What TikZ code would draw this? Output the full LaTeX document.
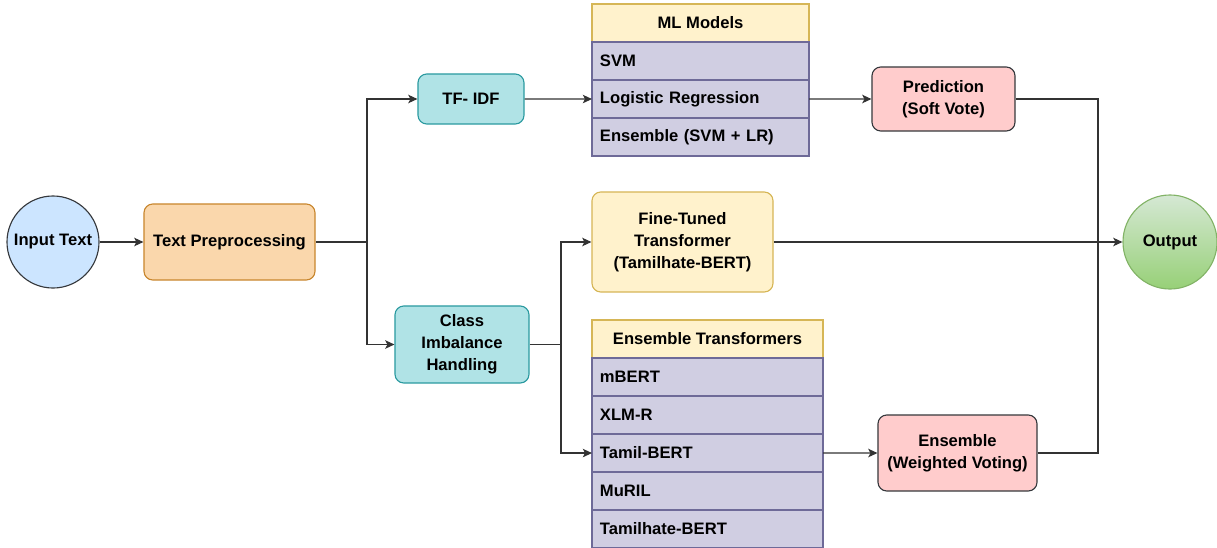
\documentclass[tikz,border=0pt]{standalone}
\usepackage{fontspec}
\setmainfont{Liberation Sans}
\usepackage{xcolor}
\usepackage{tikz}
\usetikzlibrary{positioning,arrows.meta}

\definecolor{inFill}{HTML}{CCE5FF}
\definecolor{grayD}{HTML}{36393D}
\definecolor{prepFill}{HTML}{FAD7AC}
\definecolor{prepD}{HTML}{C8862E}
\definecolor{tealFill}{HTML}{B0E3E6}
\definecolor{tealD}{HTML}{2B9AA0}
\definecolor{ylwFill}{HTML}{FFF2CC}
\definecolor{ylwD}{HTML}{D6B656}
\definecolor{purpFill}{HTML}{D0CEE2}
\definecolor{purpD}{HTML}{6E6A98}
\definecolor{redFill}{HTML}{FFCCCC}
\definecolor{outTop}{HTML}{D5E8D4}
\definecolor{outBot}{HTML}{97D077}
\definecolor{outD}{HTML}{82B366}

\begin{document}
\begin{tikzpicture}[x=0.025cm, y=-0.025cm,
    font=\fontsize{11.8}{15.5}\selectfont\bfseries,
    terminal/.style={circle, draw=grayD, thick, inner sep=0pt, minimum size=2.3cm},
    stage/.style={rectangle, rounded corners=0.22cm, thick, align=center, inner sep=2pt},
    header/.style={rectangle, draw=ylwD, fill=ylwFill, thick, outer sep=0pt, inner xsep=0.2cm, minimum height=0.95cm},
    mlrow/.style={rectangle, draw=purpD, fill=purpFill, thick, outer sep=0pt, inner xsep=0.2cm, text width=5.025cm, align=left, minimum height=0.95cm},
    etrow/.style={mlrow, text width=5.375cm},
    arrow/.style={-{Stealth[length=6.5pt, width=6pt, inset=1.5pt]}, thick, draw=black!80},
    link/.style={thick, draw=black!80}]

\useasboundingbox (0,0) rectangle (1217,547);

% Input side
\node[terminal, fill=inFill] (input) at (53,242) {Input Text};
\node[stage, draw=prepD, fill=prepFill, minimum width=4.275cm, minimum height=1.9cm] (prep) at (229.5,242) {Text Preprocessing};
\node[stage, draw=tealD, fill=tealFill, minimum width=2.65cm, minimum height=1.25cm] (tfidf) at (471,99) {TF- IDF};
\node[stage, draw=tealD, fill=tealFill, minimum width=3.35cm, minimum height=1.925cm] (imb) at (462,344.5) {Class\\Imbalance\\Handling};
\coordinate (split1) at (367,242);
\coordinate (split2) at (561,344.5);

\draw[arrow] (input) -- (prep);
\draw[link] (prep) -- (split1);
\draw[arrow] (split1) |- (tfidf);
\draw[arrow] (split1) |- (imb);

% ML branch
\node[header, minimum width=5.425cm] (mlhead) at (700.5,23) {ML Models};
\node[mlrow, below=0pt of mlhead] (svm) {SVM};
\node[mlrow, below=0pt of svm] (lr) {Logistic Regression};
\node[mlrow, below=0pt of lr] (ens) {Ensemble (SVM + LR)};
\node[stage, draw=grayD, fill=redFill, minimum width=3.575cm, minimum height=1.6cm] (pred) at (943.5,99) {Prediction\\(Soft Vote)};

\draw[arrow] (tfidf) -- (lr.west);
\draw[arrow] (lr.east) -- (pred);

% Transformer branch
\node[stage, draw=ylwD, fill=ylwFill, minimum width=4.525cm, minimum height=2.5cm] (fine) at (682.5,242) {Fine-Tuned\\Transformer\\(Tamilhate-BERT)};
\node[header, minimum width=5.775cm] (ethead) at (707.5,339) {Ensemble Transformers};
\node[etrow, below=0pt of ethead] (mbert) {mBERT};
\node[etrow, below=0pt of mbert] (xlmr) {XLM-R};
\node[etrow, below=0pt of xlmr] (tamil) {Tamil-BERT};
\node[etrow, below=0pt of tamil] (muril) {MuRIL};
\node[etrow, below=0pt of muril] (thbert) {Tamilhate-BERT};
\node[stage, draw=grayD, fill=redFill, minimum width=3.975cm, minimum height=1.9cm] (vote) at (957.5,453) {Ensemble\\(Weighted Voting)};

\draw[link] (imb) -- (split2);
\draw[arrow] (split2) |- (fine);
\draw[arrow] (split2) |- (tamil.west);
\draw[arrow] (tamil.east) -- (vote);

% Output
\node[terminal, draw=outD, top color=outTop, bottom color=outBot, minimum size=2.35cm] (output) at (1170,242) {Output};
\coordinate (merge) at (1098,242);

\draw[link] (pred) -| (merge);
\draw[link] (vote) -| (merge);
\draw[arrow] (fine) -- (output);

\end{tikzpicture}
\end{document}
